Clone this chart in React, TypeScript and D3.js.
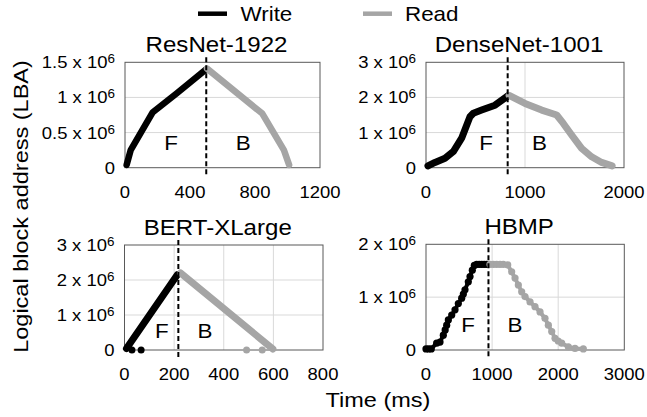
import React from "react";
import * as d3 from "d3";

// ---------- data (time in ms, LBA in units of 10^6) ----------
const resnetWrite: [number, number][] = [[10, 0.04], [35, 0.25], [171, 0.79], [319, 1.06], [494, 1.39]];
const resnetRead: [number, number][] = [[505, 1.41], [845, 0.77], [978, 0.25], [1010, 0.04]];

const densenetWrite: [number, number][] = [
  [20, 0.05], [91, 0.15], [192, 0.27], [276, 0.46], [360, 0.84], [444, 1.45], [478, 1.55],
  [562, 1.64], [697, 1.78], [830, 2.05],
];
const densenetRead: [number, number][] = [
  [840, 2.06], [1000, 1.83], [1168, 1.64], [1320, 1.5], [1387, 1.26], [1471, 0.93],
  [1572, 0.55], [1673, 0.31], [1774, 0.15], [1880, 0.05],
];

const bertWrite: [number, number][] = [[8, 0.04], [213, 2.15]];
const bertRead: [number, number][] = [[226, 2.2], [598, 0.03]];
const bertWriteDots: [number, number][] = [[30, 0], [67, 0]];
const bertReadDots: [number, number][] = [[492, 0], [555, 0]];

const hbmpWrite: [number, number][] = [
  [0, 0.02], [40, 0.02], [80, 0.02], [161, 0.13], [212, 0.15], [262, 0.28], [290, 0.38], [313, 0.47],
  [338, 0.57], [389, 0.66], [439, 0.76], [489, 0.88], [540, 0.98], [565, 1.06], [590, 1.14], [640, 1.29],
  [666, 1.39], [701, 1.51], [731, 1.6], [767, 1.62], [805, 1.62], [843, 1.62], [880, 1.62], [918, 1.62],
];
const hbmpRead: [number, number][] = [
  [968, 1.62], [1019, 1.62], [1069, 1.62], [1120, 1.62], [1170, 1.62], [1236, 1.61], [1296, 1.48],
  [1347, 1.36], [1397, 1.23], [1448, 1.1], [1498, 1.01], [1574, 0.91], [1649, 0.82], [1725, 0.72],
  [1800, 0.6], [1851, 0.47], [1902, 0.35], [1952, 0.22], [2000, 0.17], [2053, 0.13], [2153, 0.06],
  [2254, 0.03], [2380, 0.02],
];

const titles = ["ResNet-1922", "DenseNet-1001", "BERT-XLarge", "HBMP"];
const xTicks = [[0, 400, 800, 1200], [0, 1000, 2000], [0, 200, 400, 600, 800], [0, 1000, 2000, 3000]];
const yTicks = [[0, 0.5, 1, 1.5], [0, 1, 2, 3], [0, 1, 2, 3], [0, 1, 2]];
const xGrid = [[], [1000], [200, 400, 600], [1000, 2000]];
const splitTimes = [500, 825, 217, 945];
const fbPos = [[284, 727, 0.25], [606, 1146, 0.5], [150, 324, 0.33], [635, 1346, 0.35]];

const legendLabels = ["Write", "Read"];
const xAxisTitle = "Time (ms)";
const yAxisTitle = "Logical block address (LBA)";

// ---------- style / layout ----------
const W = 647, H = 417;
const FONT = "'Liberation Sans', Arial, Helvetica, sans-serif";
const SX = 1.12;
const WRITE_C = "#000000";
const READ_C = "#a5a5a5";

const boxes = [
  { l: 125, r: 320, t: 62.3, b: 167.7 },
  { l: 426, r: 624, t: 62.3, b: 167.7 },
  { l: 124.5, r: 323, t: 245, b: 350 },
  { l: 426, r: 624.3, t: 244.3, b: 350 },
];

const panelData = [
  { write: resnetWrite, read: resnetRead, wd: [], rd: [], mode: "line", lw: 6.5 },
  { write: densenetWrite, read: densenetRead, wd: [], rd: [], mode: "line", lw: 7 },
  { write: bertWrite, read: bertRead, wd: bertWriteDots, rd: bertReadDots, mode: "line", lw: 7 },
  { write: hbmpWrite, read: hbmpRead, wd: [], rd: [], mode: "dots", lw: 4 },
];

function Txt(props: any) {
  const { x, y, size, anchor = "start", rot = 0, fill = "#000", children } = props;
  return (
    <g transform={`translate(${x},${y}) rotate(${rot}) scale(${SX},1)`}>
      <text x={0} y={0} fontSize={size} textAnchor={anchor} fontFamily={FONT} fill={fill}>
        {children}
      </text>
    </g>
  );
}

function Panel({ i }: { i: number }) {
  const box = boxes[i];
  const xt = xTicks[i];
  const yt = yTicks[i];
  const x = d3.scaleLinear().domain([xt[0], xt[xt.length - 1]]).range([box.l, box.r]);
  const y = d3.scaleLinear().domain([yt[0], yt[yt.length - 1]]).range([box.b, box.t]);
  const line = d3.line<[number, number]>().x((d) => x(d[0])).y((d) => y(d[1]));
  const pd = panelData[i];
  const sx = x(splitTimes[i]);
  const cx = (box.l + box.r) / 2 - 6;
  const fb = fbPos[i];

  const series = [
    { pts: pd.write, dots: pd.wd, c: WRITE_C },
    { pts: pd.read, dots: pd.rd, c: READ_C },
  ];

  return (
    <g>
      {yt.slice(1, -1).map((v) => (
        <line key={"gy" + v} x1={box.l} x2={box.r} y1={y(v)} y2={y(v)} stroke="#d9d9d9" strokeWidth={1} />
      ))}
      {xGrid[i].map((v) => (
        <line key={"gx" + v} x1={x(v)} x2={x(v)} y1={box.t} y2={box.b} stroke="#d9d9d9" strokeWidth={1} />
      ))}
      <rect x={box.l} y={box.t} width={box.r - box.l} height={box.b - box.t} fill="none" stroke="#595959" strokeWidth={1} />
      {series.map((s, k) => (
        <g key={k}>
          <path
            d={line(s.pts) || ""}
            fill="none"
            stroke={s.c}
            strokeWidth={pd.lw}
            strokeLinecap="round"
            strokeLinejoin="round"
          />
          {pd.mode === "dots" &&
            s.pts.map((p, j) => <circle key={j} cx={x(p[0])} cy={y(p[1])} r={3.6} fill={s.c} />)}
          {s.dots.map((p: [number, number], j: number) => (
            <circle key={"d" + j} cx={x(p[0])} cy={y(p[1])} r={3.5} fill={s.c} />
          ))}
        </g>
      ))}
      <line x1={sx} x2={sx} y1={box.t - 5} y2={box.b + 7} stroke="#000" strokeWidth={2} strokeDasharray="5,3" />
      <Txt x={x(fb[0])} y={y(fb[2])} size={20} anchor="middle">F</Txt>
      <Txt x={x(fb[1])} y={y(fb[2])} size={20} anchor="middle">B</Txt>
      <Txt x={cx} y={box.t - 10} size={21.5} anchor="middle">{titles[i]}</Txt>
      {xt.map((v) => (
        <Txt key={"xt" + v} x={x(v)} y={box.b + 30} size={16.5} anchor="middle">{String(v)}</Txt>
      ))}
      {yt.map((v) => (
        <Txt key={"yt" + v} x={box.l - 10} y={y(v) + 6} size={16.5} anchor="end">
          {v === 0 ? "0" : (
            <>
              {String(v) + " x 10"}
              <tspan fontSize={12} dy={-5}>6</tspan>
            </>
          )}
        </Txt>
      ))}
    </g>
  );
}

export default function App() {
  return (
    <svg
      width={W}
      height={H}
      viewBox={`0 0 ${W} ${H}`}
      style={{ position: "absolute", left: 0, top: 0, background: "#fff" }}
    >
      <rect x={0} y={0} width={W} height={H} fill="#fff" />
      <line x1={198} x2={227} y1={13.7} y2={13.7} stroke={WRITE_C} strokeWidth={4.5} />
      <Txt x={240.5} y={20.7} size={20}>{legendLabels[0]}</Txt>
      <line x1={363} x2={392} y1={13.7} y2={13.7} stroke={READ_C} strokeWidth={4.5} />
      <Txt x={405} y={20.7} size={20}>{legendLabels[1]}</Txt>
      {[0, 1, 2, 3].map((i) => (
        <Panel key={i} i={i} />
      ))}
      <Txt x={378} y={406.7} size={21} anchor="middle">{xAxisTitle}</Txt>
      <Txt x={28} y={206.5} size={21} anchor="middle" rot={-90}>{yAxisTitle}</Txt>
    </svg>
  );
}
